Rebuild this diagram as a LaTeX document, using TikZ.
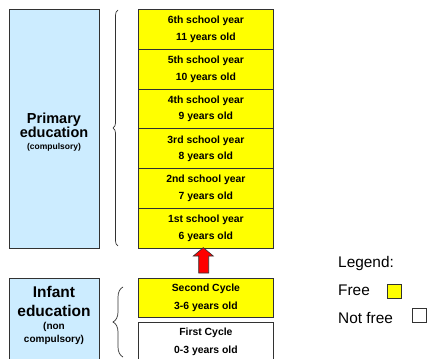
\documentclass[tikz,border=0pt]{standalone}
\usepackage{fontspec}
\setmainfont{Liberation Sans}
\usetikzlibrary{decorations.pathreplacing}
\definecolor{edublue}{RGB}{204,236,255}
\definecolor{freeyellow}{RGB}{255,255,0}
\definecolor{edgegray}{RGB}{50,50,50}
\definecolor{arrowred}{RGB}{255,0,0}
\begin{document}
\begin{tikzpicture}[x=1pt,y=-1pt,
  stagebox/.style={draw=edgegray, fill=edublue, line width=0.8pt, minimum width=90pt, inner sep=0pt, anchor=north west},
  stagetext/.style={align=center, inner sep=0pt, font=\bfseries},
  yearbox/.style={draw=edgegray, fill=freeyellow, line width=0.8pt, minimum width=135pt, minimum height=39.8pt, inner sep=0pt, anchor=north west, align=center, font=\bfseries\fontsize{10.4}{16.5}\selectfont},
  cyclebox/.style={yearbox, minimum height=39pt, font=\bfseries\fontsize{10.4}{18.7}\selectfont},
  notfree/.style={fill=white},
  bracepath/.style={draw=edgegray, line width=0.7pt, decorate},
  legendtext/.style={anchor=base west, inner sep=0pt, font=\fontsize{15.4}{18}\selectfont},
  legendsq/.style={draw=edgegray, line width=0.7pt, minimum size=14pt, inner sep=0pt, anchor=north west}]
\useasboundingbox (0,0) rectangle (427,358);

% primary education
\node[stagebox, minimum height=239pt] (primary) at (9,9) {};
\node[stagetext, font=\bfseries\fontsize{14.5}{14}\selectfont] (primarytxt) at (54,132)
  {Primary\\education\\[-2pt]{\fontsize{8.5}{14}\selectfont (compulsory)}};

% infant education
\node[stagebox, minimum height=90pt] (infant) at (9,278) {};
\node[stagetext, font=\bfseries\fontsize{15.5}{19}\selectfont] (infanttxt) at (54,315.5)
  {Infant\\education\\[-6.5pt]{\fontsize{10}{19}\selectfont (non}\\[-6pt]{\fontsize{10}{19}\selectfont compulsory)}};

% school years
\node[yearbox] (y6) at (138,9)     {6th school year\\11 years old};
\node[yearbox] (y5) at (138,48.8)  {5th school year\\10 years old};
\node[yearbox] (y4) at (138,88.6)  {4th school year\\9 years old};
\node[yearbox] (y3) at (138,128.4) {3rd school year\\8 years old};
\node[yearbox] (y2) at (138,168.2) {2nd school year\\7 years old};
\node[yearbox] (y1) at (138,208)   {1st school year\\6 years old};

% cycles
\node[cyclebox] (c2) at (138,278) {Second Cycle\\3-6 years old};
\node[cyclebox, notfree] (c1) at (138,322) {First Cycle\\0-3 years old};

% red arrow
\draw[fill=arrowred, draw=edgegray, line width=0.6pt]
  (198.7,273) -- (198.7,256) -- (193.3,256) -- (203.3,247.6) -- (213.3,256)
  -- (208.7,256) -- (208.7,273) -- cycle;

% braces
\coordinate (pb1) at (118,246);
\coordinate (pb2) at (118,10);
\draw[bracepath, decoration={brace, amplitude=5pt}] (pb1) -- (pb2);
\coordinate (ib1) at (123,357);
\coordinate (ib2) at (123,287);
\draw[bracepath, decoration={brace, amplitude=10pt}] (ib1) -- (ib2);

% legend
\node[legendtext] (legtitle) at (338,267) {Legend:};
\node[legendtext] (legfree) at (338,295) {Free};
\node[legendtext] (legnotfree) at (338,323) {Not free};
\node[legendsq, fill=freeyellow] (sqfree) at (387,283.5) {};
\node[legendsq, fill=white] (sqnotfree) at (411.5,308) {};
\end{tikzpicture}
\end{document}
